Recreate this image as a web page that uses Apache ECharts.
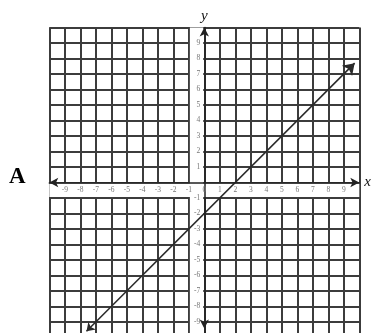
<!DOCTYPE html>
<html>
  <head>
    <meta charset="utf-8" />
    <script src="https://cdn.jsdelivr.net/npm/echarts@6/dist/echarts.min.js"></script>
    <style>
      body { margin: 0; background: #fff; }
    </style>
  </head>
  <body>
    <div id="main" style="width: 375px;height:333px;"></div>
    <script type="text/javascript">
    // axis range and tick step
    var axisMin = -10;
    var axisMax = 10;
    var tickStep = 1;

    // the graphed line, from its lower-left end to its upper-right end
    var lineX = [-7.6, 9.7];
    var lineY = [-9.6, 7.7];

    // white label strips (between -1 and 0 on each axis)
    var stripX = [-0.93, -0.07];
    var stripY = [-0.93, -0.07];

    var gridColor = '#3c3c3c';
    var inkColor = '#222';
    var tickColor = '#777';

    // plot box, in pixels (bottom runs past the canvas edge like the cropped original)
    var W = 375, H = 333;
    var gLeft = 49.3, gRight = 15.7, gTop = 27.5, gBottom = -4.5;
    var plotW = W - gLeft - gRight;
    var plotH = H - gTop - gBottom;
    // shift the label axes from the box edge onto the zero lines
    var xShift = -(plotH * (0 - axisMin) / (axisMax - axisMin));
    var yShift = -(plotW * (0 - axisMin) / (axisMax - axisMin));

    function xLabel(v) {
      if (v === axisMin || v === axisMax) return '';
      return String(v);
    }
    function yLabel(v) {
      if (v === axisMin || v === axisMax || v === 0) return '';
      return String(v);
    }

    var myChart = echarts.init(document.getElementById('main'));

    var gridAxis = {
      type: 'value', min: axisMin, max: axisMax, interval: tickStep,
      axisLine: { show: false, onZero: false },
      axisTick: { show: false },
      axisLabel: { show: false },
      splitLine: { show: true, lineStyle: { color: gridColor, width: 2 } },
      z: 0
    };

    var option = {
      animation: false,
      grid: { left: gLeft, right: gRight, top: gTop, bottom: gBottom, outerBoundsMode: 'none', containLabel: false },
      xAxis: [
        gridAxis,
        {
          type: 'value', min: axisMin, max: axisMax, interval: tickStep,
          position: 'bottom', offset: xShift,
          axisLine: {
            onZero: false, symbol: ['arrow', 'arrow'], symbolSize: [7, 9],
            lineStyle: { color: inkColor, width: 1.5 }
          },
          axisTick: { show: false },
          axisLabel: { formatter: xLabel, fontSize: 7.5, color: tickColor, margin: 4, fontFamily: 'Liberation Serif' },
          splitLine: { show: false },
          name: 'x', nameLocation: 'end', nameGap: 5,
          nameTextStyle: { fontFamily: 'Liberation Serif', fontStyle: 'italic', fontSize: 15, color: '#111' },
          z: 10
        }
      ],
      yAxis: [
        gridAxis,
        {
          type: 'value', min: axisMin, max: axisMax, interval: tickStep,
          position: 'left', offset: yShift,
          axisLine: {
            onZero: false, symbol: ['arrow', 'arrow'], symbolSize: [7, 9],
            symbolOffset: [9, 0],
            lineStyle: { color: inkColor, width: 1.5 }
          },
          axisTick: { show: false },
          axisLabel: { formatter: yLabel, fontSize: 7.5, color: tickColor, margin: 4, fontFamily: 'Liberation Serif' },
          splitLine: { show: false },
          name: 'y', nameLocation: 'end', nameGap: 4,
          nameTextStyle: { fontFamily: 'Liberation Serif', fontStyle: 'italic', fontSize: 15, color: '#111' },
          z: 10
        }
      ],
      graphic: [
        {
          type: 'text', left: 9, top: 166,
          style: { text: 'A', font: 'bold 23px "Liberation Serif"', fill: '#000' }
        }
      ],
      series: [
        {
          type: 'line', data: [], z: 1, silent: true,
          markArea: {
            silent: true,
            itemStyle: { color: '#fff' },
            data: [
              [{ xAxis: stripX[0], yAxis: axisMin }, { xAxis: stripX[1], yAxis: axisMax }],
              [{ xAxis: axisMin, yAxis: stripY[0] }, { xAxis: axisMax, yAxis: stripY[1] }]
            ]
          }
        },
        {
          type: 'lines', coordinateSystem: 'cartesian2d', z: 5,
          symbol: ['arrow', 'arrow'], symbolSize: [8, 11],
          lineStyle: { color: '#2a2a2a', width: 1.6, opacity: 1 },
          data: [{ coords: [[lineX[0], lineY[0]], [lineX[1], lineY[1]]] }]
        }
      ]
    };

    myChart.setOption(option);
    </script>
  </body>
</html>
